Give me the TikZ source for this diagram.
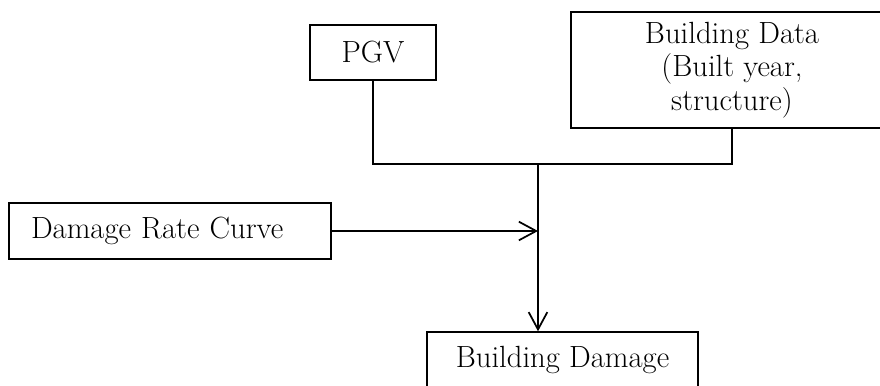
\documentclass[tikz,border=0pt]{standalone}
\usepackage{fontspec}
\usepackage{tikz}
\usetikzlibrary{arrows.meta,positioning,calc}

\begin{document}
\begin{tikzpicture}[x=0.75pt,y=-0.75pt,font=\fontsize{23}{25}\selectfont,>={Straight Barb[length=13pt,width=14pt]}]
\tikzset{box/.style={draw,line width=1.1pt,align=center,inner sep=0pt},
  link/.style={line width=1.3pt}}
\useasboundingbox (0,0) rectangle (880,385);
\clip (0,0) rectangle (880,385);
\node[box,minimum width=126*0.75pt,minimum height=55*0.75pt] (pgv) at (373,52.5) {PGV};
\node[box,minimum width=322*0.75pt,minimum height=116*0.75pt] (data) at (732,70) {Building Data\\(Built year,\\structure)};
\node[box,minimum width=322*0.75pt,minimum height=56*0.75pt,text width=322*0.75pt,align=left] (curve) at (170,231) {\hspace*{16.5pt}Damage Rate Curve};
\node[box,minimum width=271*0.75pt,minimum height=56*0.75pt] (dmg) at (562.5,360) {Building Damage};
\coordinate (j) at (538,164);
\draw[link] (pgv.south) |- (j) -| (data.south);
\draw[link,->] (j) -- (j |- dmg.north);
\draw[link,->] (curve.east) -- (j |- curve.east);
\end{tikzpicture}
\end{document}
